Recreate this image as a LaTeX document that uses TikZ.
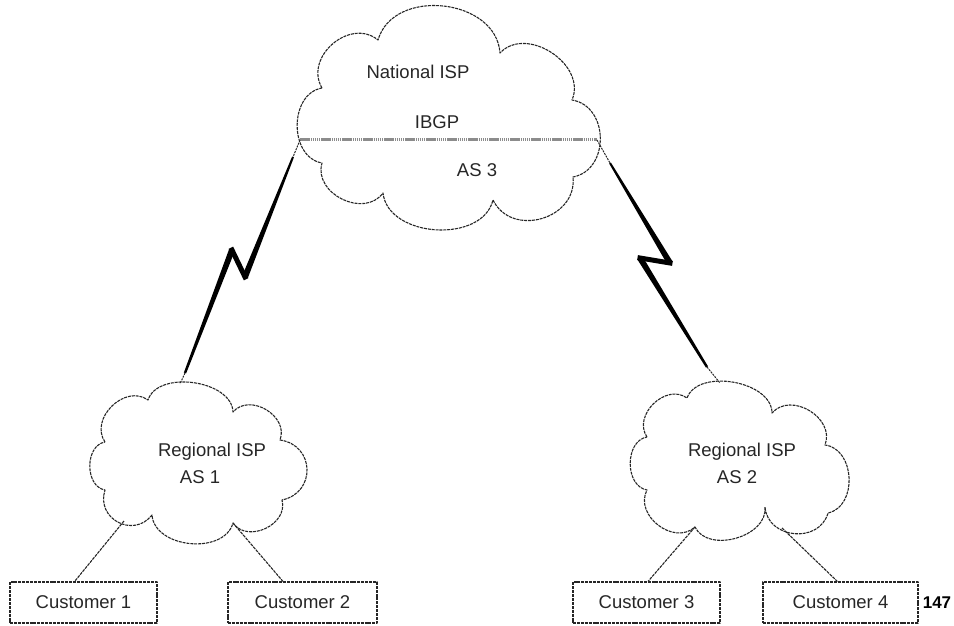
\documentclass[tikz,border=0pt]{standalone}
\usepackage{fontspec}
\setmainfont{Liberation Sans}
\usetikzlibrary{calc}
\begin{document}
\begin{tikzpicture}[x=1pt,y=1pt,
  outl/.style={line width=1.1pt, dash pattern=on 3pt off 0.9pt, line join=round, black!85},
  bump/.style={bend left=80, looseness=#1},
  lbl/.style={font=\fontsize{18.5}{20}\selectfont, text=black!85, inner sep=0pt},
  custbox/.style={outl, draw, minimum height=41pt, inner sep=0pt, font=\fontsize{18.5}{20}\selectfont, text=black!85},
  jog/.style={line width=5pt, line cap=rect, black},
  thinlink/.style={line width=1pt, dash pattern=on 2pt off 1pt, black!85},
  ibgp/.style={line width=3pt, black!45, dash pattern=on 1.5pt off 0.6pt}
]
\useasboundingbox (0,0) rectangle (954,625);

% National ISP cloud
\draw[outl] (322,537) to[bump=1.25] (378,585) to[bump=1.15] (500,572)
  to[bump=1.15] (572,525) to[bump=1.25] (573,448) to[bump=1.3] (493,425)
  to[bump=1.05] (383,432) to[bump=1.2] (322,462) to[bump=1.15] (322,537);
\coordinate (natL) at (300,485);
\coordinate (natR) at (597,485);
\draw[ibgp] (natL) -- (natR);
\node[lbl] (nat) at (418,553) {National ISP};
\node[lbl] (ibgpl) at (437,503) {IBGP};
\node[lbl] (as3) at (477,455) {AS 3};

% Regional ISP AS 1 cloud
\draw[outl] (105,183) to[bump=1.2] (148,225) to[bump=0.95] (233,213)
  to[bump=1.2] (280,185) to[bump=1.5] (282,125) to[bump=1.2] (233,102)
  to[bump=1.05] (152,110) to[bump=1.45] (105,135) to[bump=1.1] (105,183);
\node[lbl] (r1a) at (212,173) {Regional ISP};
\node[lbl] (r1b) at (200,148) {AS 1};
\coordinate (r1top) at (180,241);
\coordinate (r1bl) at (124,104);
\coordinate (r1br) at (233,102);

% Regional ISP AS 2 cloud
\draw[outl] (647,188) to[bump=1.2] (687,227) to[bump=0.95] (772,212)
  to[bump=1.2] (825,180) to[bump=1.15] (828,112) to[bump=1.3] (765,118)
  to[bump=1.05] (695,98) to[bump=1.2] (647,135) to[bump=1.1] (647,188);
\node[lbl] (r2a) at (742,173) {Regional ISP};
\node[lbl] (r2b) at (737,148) {AS 2};
\coordinate (r2top) at (720,242);
\coordinate (r2bl) at (695,98);
\coordinate (r2br) at (782,97);

% Lightning links
\coordinate (lT) at (293,468);
\coordinate (lV1) at (245,348);
\coordinate (lV2) at (232,375);
\coordinate (lE) at (185,252);
\draw[thinlink] (natL) -- (lT);
\fill ($(lT)!1pt!90:(lV1)$) -- ($(lV1)!3pt!-90:(lT)$) -- ($(lV1)!3pt!90:(lT)$) -- ($(lT)!1pt!-90:(lV1)$) -- cycle;
\fill ($(lV2)!3pt!90:(lE)$) -- ($(lE)!1.2pt!-90:(lV2)$) -- ($(lE)!1.2pt!90:(lV2)$) -- ($(lV2)!3pt!-90:(lE)$) -- cycle;
\draw[jog] (lV1) -- (lV2);
\draw[thinlink] (lE) -- (r1top);

\coordinate (rT) at (610,462);
\coordinate (rV1) at (670,362);
\coordinate (rV2) at (640,367);
\coordinate (rE) at (707,258);
\draw[thinlink] (natR) -- (rT);
\fill ($(rT)!1pt!90:(rV1)$) -- ($(rV1)!3pt!-90:(rT)$) -- ($(rV1)!3pt!90:(rT)$) -- ($(rT)!1pt!-90:(rV1)$) -- cycle;
\fill ($(rV2)!3pt!90:(rE)$) -- ($(rE)!1.2pt!-90:(rV2)$) -- ($(rE)!1.2pt!90:(rV2)$) -- ($(rV2)!3pt!-90:(rE)$) -- cycle;
\draw[jog] (rV1) -- (rV2);
\draw[thinlink] (rE) -- (r2top);

% Customer boxes
\node[custbox, minimum width=147pt] (c1) at (83.5,22.5) {Customer 1};
\node[custbox, minimum width=149pt] (c2) at (302.5,22.5) {Customer 2};
\node[custbox, minimum width=147pt] (c3) at (646.5,22.5) {Customer 3};
\node[custbox, minimum width=155pt] (c4) at (840.5,22.5) {Customer 4};
\node[font=\bfseries\fontsize{17}{19}\selectfont, inner sep=0pt] (num) at (937,22) {147};

\draw[outl] (r1bl) -- ($(c1.north west)!0.44!(c1.north east)$);
\draw[outl] (r1br) -- ($(c2.north west)!0.37!(c2.north east)$);
\draw[outl] (r2bl) -- ($(c3.north west)!0.51!(c3.north east)$);
\draw[outl] (r2br) -- ($(c4.north west)!0.48!(c4.north east)$);
\end{tikzpicture}
\end{document}
